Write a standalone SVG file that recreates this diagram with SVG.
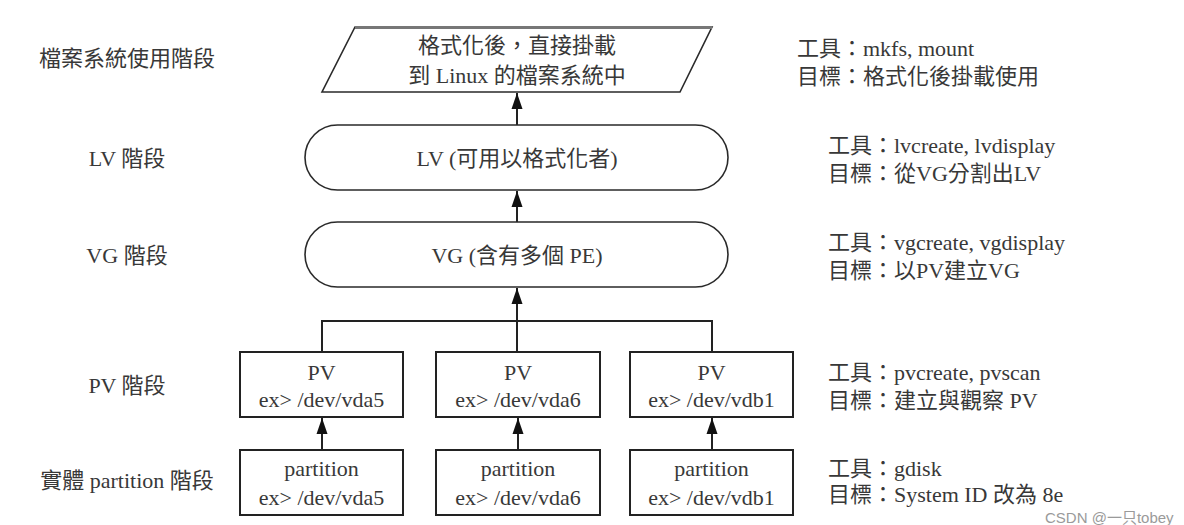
<svg xmlns="http://www.w3.org/2000/svg" width="1184" height="525" viewBox="0 0 1184 525">
<defs>
<style>
text{font-family:"Liberation Serif","Noto Sans CJK TC",serif;font-size:22px;fill:#383838}
.c{text-anchor:middle}
.shape{fill:#fff;stroke:#2a2a2a;stroke-width:1.6}
.box{fill:#fff;stroke:#222;stroke-width:2}
.conn{fill:none;stroke:#222;stroke-width:2}
.wm{font-family:"Liberation Sans","Noto Sans CJK SC",sans-serif;font-size:15px;fill:#9a9a9a}
</style>
<marker id="arr" markerUnits="userSpaceOnUse" markerWidth="16" markerHeight="12" refX="16" refY="6" orient="auto">
<path d="M0,0.5 L16,6 L0,11.5 z" fill="#111"/>
</marker>
</defs>
<rect width="1184" height="525" fill="#fff"/>

<g id="stage-labels">
<text class="c" x="127" y="66">檔案系統使用階段</text>
<text class="c" x="127" y="166">LV 階段</text>
<text class="c" x="127" y="263">VG 階段</text>
<text class="c" x="127" y="393">PV 階段</text>
<text class="c" x="127" y="488">實體 partition 階段</text>
</g>

<g id="connectors">
<line class="conn" x1="517" y1="125" x2="517" y2="93" marker-end="url(#arr)"/>
<line class="conn" x1="517" y1="222" x2="517" y2="191" marker-end="url(#arr)"/>
<line class="conn" x1="517" y1="352" x2="517" y2="288" marker-end="url(#arr)"/>
<polyline class="conn" points="322,352 322,321 712,321 712,352"/>
<line class="conn" x1="322" y1="450" x2="322" y2="418" marker-end="url(#arr)"/>
<line class="conn" x1="518" y1="450" x2="518" y2="418" marker-end="url(#arr)"/>
<line class="conn" x1="712" y1="450" x2="712" y2="418" marker-end="url(#arr)"/>
</g>

<g id="fs">
<polygon class="shape" points="355,27 712,27 680,92 322,92"/>
<line x1="355" y1="27.5" x2="712" y2="27.5" stroke="#777" stroke-width="3"/>
<text class="c" x="517" y="53">格式化後，直接掛載</text>
<text class="c" x="517" y="83">到 Linux 的檔案系統中</text>
</g>

<g id="lv">
<rect class="shape" x="305" y="125" width="423" height="65" rx="32.5" ry="32.5"/>
<text class="c" x="517" y="165.5">LV (可用以格式化者)</text>
</g>

<g id="vg">
<rect class="shape" x="305" y="222" width="423" height="65" rx="32.5" ry="32.5"/>
<text class="c" x="517" y="262.5">VG (含有多個 PE)</text>
</g>

<g id="pv1">
<rect class="box" x="240" y="352" width="163" height="65"/>
<text class="c" x="321.5" y="379.5">PV</text>
<text class="c" x="321.5" y="407">ex&gt; /dev/vda5</text>
</g>
<g id="pv2">
<rect class="box" x="436" y="352" width="164" height="65"/>
<text class="c" x="518" y="379.5">PV</text>
<text class="c" x="518" y="407">ex&gt; /dev/vda6</text>
</g>
<g id="pv3">
<rect class="box" x="630" y="352" width="163" height="65"/>
<text class="c" x="711.5" y="379.5">PV</text>
<text class="c" x="711.5" y="407">ex&gt; /dev/vdb1</text>
</g>

<g id="part1">
<rect class="box" x="240" y="450" width="163" height="65"/>
<text class="c" x="321.5" y="476">partition</text>
<text class="c" x="321.5" y="505">ex&gt; /dev/vda5</text>
</g>
<g id="part2">
<rect class="box" x="436" y="450" width="164" height="65"/>
<text class="c" x="518" y="476">partition</text>
<text class="c" x="518" y="505">ex&gt; /dev/vda6</text>
</g>
<g id="part3">
<rect class="box" x="630" y="450" width="163" height="65"/>
<text class="c" x="711.5" y="476">partition</text>
<text class="c" x="711.5" y="505">ex&gt; /dev/vdb1</text>
</g>

<g id="notes">
<text x="797" y="56">工具：mkfs, mount</text>
<text x="797" y="84">目標：格式化後掛載使用</text>
<text x="828" y="153">工具：lvcreate, lvdisplay</text>
<text x="828" y="181">目標：從VG分割出LV</text>
<text x="828" y="250">工具：vgcreate, vgdisplay</text>
<text x="828" y="278">目標：以PV建立VG</text>
<text x="828" y="380">工具：pvcreate, pvscan</text>
<text x="828" y="408">目標：建立與觀察 PV</text>
<text x="828" y="476">工具：gdisk</text>
<text x="828" y="502">目標：System ID 改為 8e</text>
</g>

<text class="wm" x="1045" y="523">CSDN @一只tobey</text>
</svg>
